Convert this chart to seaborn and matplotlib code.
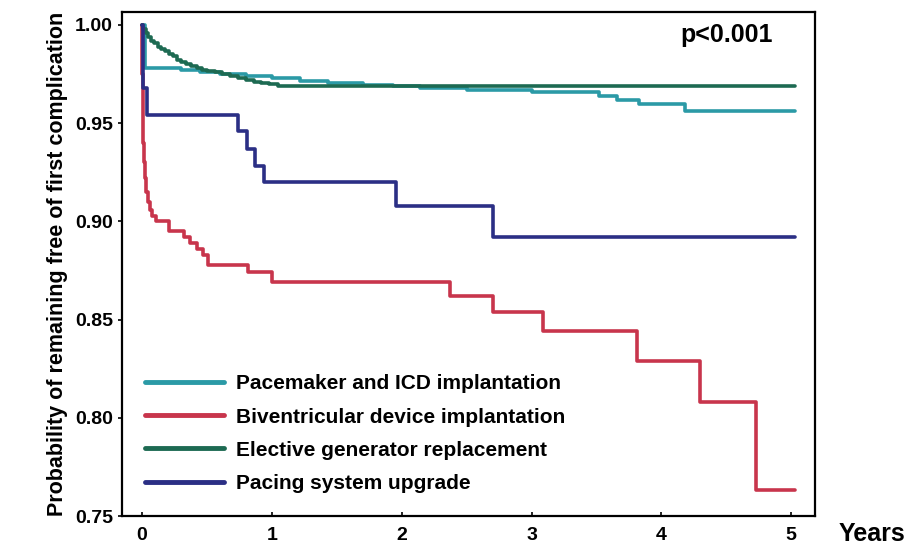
import numpy as np
import pandas as pd
import seaborn as sns
import matplotlib.pyplot as plt

# Kaplan-Meier curves (time in years, survival prob.)
pm_icd_t = [0, 0.02, 0.3, 0.45, 0.6, 0.8, 1.0, 1.22, 1.43, 1.7, 1.93, 2.14, 2.5,
            3.0, 3.52, 3.66, 3.83, 4.18, 5.03]
pm_icd_v = [1.0, 0.978, 0.977, 0.976, 0.975, 0.974, 0.973, 0.9713, 0.9704, 0.9696,
            0.9687, 0.968, 0.967, 0.9657, 0.9637, 0.9616, 0.960, 0.956, 0.956]

biv_t = [0, 0.003, 0.006, 0.01, 0.015, 0.02, 0.03, 0.045, 0.06, 0.08, 0.107,
         0.21, 0.32, 0.37, 0.42, 0.47, 0.51, 0.82, 1.0, 2.37, 2.70, 3.09, 3.81,
         4.30, 4.73, 5.03]
biv_v = [1.0, 0.975, 0.955, 0.94, 0.93, 0.922, 0.915, 0.91, 0.906, 0.903, 0.900,
         0.895, 0.892, 0.889, 0.886, 0.883, 0.878, 0.874, 0.869, 0.862, 0.854,
         0.844, 0.829, 0.808, 0.763, 0.763]

gen_t = [0, 0.01, 0.03, 0.05, 0.07, 0.09, 0.12, 0.15, 0.18, 0.21, 0.24, 0.27,
         0.3, 0.34, 0.38, 0.42, 0.46, 0.5, 0.56, 0.62, 0.68, 0.74, 0.8, 0.86,
         0.92, 0.98, 1.05, 5.03]
gen_v = [1.0, 0.998, 0.996, 0.994, 0.992, 0.991, 0.989, 0.988, 0.987, 0.985,
         0.984, 0.982, 0.981, 0.980, 0.979, 0.978, 0.977, 0.9765, 0.976, 0.975,
         0.974, 0.973, 0.972, 0.971, 0.9703, 0.9697, 0.969, 0.969]

upg_t = [0, 0.01, 0.04, 0.74, 0.81, 0.87, 0.94, 1.96, 2.70, 5.03]
upg_v = [1.0, 0.968, 0.954, 0.946, 0.937, 0.928, 0.920, 0.908, 0.892, 0.892]

groups = ["Pacemaker and ICD implantation", "Biventricular device implantation",
          "Elective generator replacement", "Pacing system upgrade"]
colors = ["#2b9aa6", "#c8354c", "#1d6a52", "#2b2f85"]

frames = []
for name, t, v in zip(groups, [pm_icd_t, biv_t, gen_t, upg_t],
                      [pm_icd_v, biv_v, gen_v, upg_v]):
    frames.append(pd.DataFrame({"Years": t, "Prob": v, "Group": name}))
df = pd.concat(frames, ignore_index=True)

sns.set_style("ticks")
plt.rcParams["font.family"] = ["Liberation Sans", "DejaVu Sans"]
plt.rcParams["font.weight"] = "bold"
plt.rcParams["text.color"] = "black"
plt.rcParams["axes.labelcolor"] = "black"
plt.rcParams["xtick.color"] = "black"
plt.rcParams["ytick.color"] = "black"

fig = plt.figure(figsize=(9.15, 5.49), dpi=100)
ax = fig.add_axes([0.1333, 0.0601, 0.757, 0.918])

sns.lineplot(data=df, x="Years", y="Prob", hue="Group", hue_order=groups,
             palette=colors, drawstyle="steps-post", estimator=None,
             linewidth=2.6, ax=ax)

ax.set_xlim(-0.154, 5.18)
ax.set_ylim(0.75, 1.0066)
ax.set_xticks([0, 1, 2, 3, 4, 5])
ax.set_yticks([0.75, 0.80, 0.85, 0.90, 0.95, 1.00])
ax.set_yticklabels(["0.75", "0.80", "0.85", "0.90", "0.95", "1.00"])
ax.tick_params(axis="both", labelsize=14, length=3, width=1.2, colors="black")
ax.tick_params(axis="x", direction="in", pad=8)
for lab in ax.get_xticklabels() + ax.get_yticklabels():
    lab.set_fontweight("bold")
for sp in ax.spines.values():
    sp.set_visible(True)
    sp.set_linewidth(1.6)
    sp.set_color("black")

ax.set_xlabel("")
ax.set_ylabel("Probability of remaining free of first complication",
              fontsize=15.5, fontweight="bold", labelpad=5)
fig.text(0.99, 0.028, "Years", fontsize=18, fontweight="bold",
         ha="right", va="center")
ax.text(0.94, 0.955, "p<0.001", transform=ax.transAxes, fontsize=18,
        fontweight="bold", ha="right", va="center")

leg = ax.legend(loc="upper left", bbox_to_anchor=(0.033, 0.281), frameon=False,
                fontsize=15, handlelength=3.8, handletextpad=0.6,
                labelspacing=0.68, borderaxespad=0, borderpad=0)
for line in leg.get_lines():
    line.set_linewidth(3.5)
for txt in leg.get_texts():
    txt.set_fontweight("bold")
    txt.set_color("black")

fig.savefig("out.png", dpi=100)
